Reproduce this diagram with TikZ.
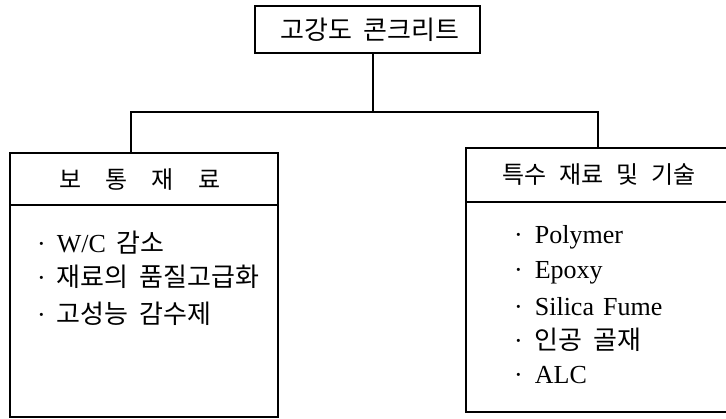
\documentclass[tikz,border=0pt]{standalone}
\usepackage{fontspec}
\setmainfont{Liberation Serif}
\newfontfamily\kr{Noto Sans CJK KR}
\newcommand\kgap{\hspace{11pt}}
\begin{document}
\begin{tikzpicture}[x=1pt,y=-1pt,
  box/.style={draw,line width=1.2pt,inner sep=0pt},
  txt/.style={inner sep=0pt,anchor=west},
  lefttxt/.style={txt,font=\fontsize{26}{30}\selectfont},
  righttxt/.style={txt,font=\fontsize{26}{30}\selectfont},
  krtxt/.style={font=\fontsize{26}{30}\selectfont\kr},
  conn/.style={line width=1.2pt}]
\useasboundingbox (0,0) rectangle (726,419);
\clip (0,0) rectangle (726,419);
% boxes
\node[box,minimum width=225pt,minimum height=47pt] (title) at (367.5,29.5) {};
\node[inner sep=0pt,krtxt] (titletxt) at (370,30) {고강도\kgap 콘크리트};
\node[box,minimum width=268pt,minimum height=52pt] (lhead) at (144,179) {};
\node[box,minimum width=268pt,minimum height=212pt] (lbody) at (144,311) {};
\node[box,minimum width=284pt,minimum height=54pt] (rhead) at (608,175) {};
\node[box,minimum width=284pt,minimum height=210pt] (rbody) at (608,307) {};
% headers
\node[inner sep=0pt,font=\fontsize{24}{28}\selectfont\kr] (lheadtxt) at (140,180)
  {보\hspace{24pt}통\hspace{24pt}재\hspace{24pt}료};
\node[inner sep=0pt,font=\fontsize{24}{28}\selectfont\kr] (rheadtxt) at (599,175)
  {특수\hspace{13pt}재료\hspace{13pt}및\hspace{13pt}기술};
% connectors
\coordinate (j) at (373,112);
\coordinate (jl) at (131,112);
\coordinate (jr) at (598,112);
\draw[conn] (title.south -| j) -- (j);
\draw[conn] (lhead.north -| jl) -- (jl) -- (jr) -- (rhead.north -| jr);
% left items
\node[lefttxt] (l1) at (37,243) {·\hspace{11pt}W/C\kgap{\kr 감소}};
\node[lefttxt] (l2) at (37,277) {·\hspace{11pt}{\kr 재료의\kgap 품질고급화}};
\node[lefttxt] (l3) at (37,314) {·\hspace{11pt}{\kr 고성능\kgap 감수제}};
% right items
\node[righttxt] (r1) at (514,237) {·\hspace{12pt}Polymer};
\node[righttxt] (r2) at (514,273) {·\hspace{12pt}Epoxy};
\node[righttxt] (r3) at (514,307) {·\hspace{12pt}Silica\hspace{9pt}Fume};
\node[righttxt] (r4) at (514,340) {·\hspace{12pt}{\kr 인공\kgap 골재}};
\node[righttxt] (r5) at (514,375) {·\hspace{12pt}ALC};
\end{tikzpicture}
\end{document}
